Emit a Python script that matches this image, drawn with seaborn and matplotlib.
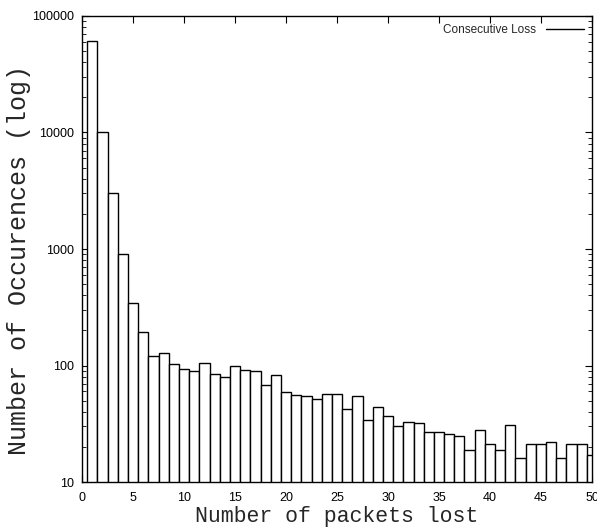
import matplotlib
matplotlib.use("Agg")
import matplotlib.pyplot as plt
import seaborn as sns
import pandas as pd
from matplotlib.lines import Line2D
from matplotlib.ticker import LogLocator, NullFormatter, FixedLocator

# number of consecutive packets lost and how often it happened
packets_lost = list(range(1, 51))
occurrences = [61000, 10000, 3000, 900, 345, 195, 120, 128, 104, 94,
               90, 105, 84, 79, 100, 91, 89, 68, 83, 59,
               56, 55, 52, 57, 57, 42, 55, 34, 44, 37,
               30, 33, 32, 27, 27, 26, 25, 19, 28, 21,
               19, 31, 16, 21, 21, 22, 16, 21, 21, 17]
x_ticks = [0, 5, 10, 15, 20, 25, 30, 35, 40, 45, 50]
y_ticks = [10, 100, 1000, 10000, 100000]

df = pd.DataFrame({"lost": packets_lost, "count": occurrences})

sns.set_style("ticks")
tick_font = ["Liberation Sans Narrow", "Liberation Sans"]

fig = plt.figure(figsize=(5.97, 5.29), dpi=100)
ax = fig.add_axes([0.1374, 0.0888, 0.8542, 0.881])

sns.barplot(data=df, x="lost", y="count", native_scale=True, width=1,
            color="white", edgecolor="black", linewidth=1, ax=ax,
            errorbar=None, saturation=1)

ax.set_yscale("log")
ax.set_ylim(10, 100000)
ax.set_xlim(0, 50)

ax.xaxis.set_major_locator(FixedLocator(x_ticks))
ax.set_xticklabels([str(t) for t in x_ticks])
ax.yaxis.set_major_locator(FixedLocator(y_ticks))
ax.set_yticklabels([str(t) for t in y_ticks])
ax.yaxis.set_minor_locator(LogLocator(base=10, subs=range(2, 10)))
ax.yaxis.set_minor_formatter(NullFormatter())

for s in ax.spines.values():
    s.set_visible(True)
    s.set_linewidth(1)
    s.set_color("black")

ax.tick_params(which="both", direction="in", top=True, right=True, colors="black")
ax.tick_params(which="major", length=5, width=0.8, labelsize=9)
ax.tick_params(axis="x", which="major", pad=7.5)
ax.tick_params(axis="y", which="major", pad=6)
ax.tick_params(which="minor", length=3, width=0.6)
for lab in ax.get_xticklabels() + ax.get_yticklabels():
    lab.set_family(tick_font)

ax.set_xlabel("Number of packets lost", family="Liberation Mono", fontsize=15.5, labelpad=1)
ax.set_ylabel("Number of Occurences (log)", family="Liberation Mono", fontsize=18)
ax.yaxis.set_label_coords(-0.1, 0.476)

handle = Line2D([], [], color="black", linewidth=1)
ax.legend([handle], ["Consecutive Loss"], loc="upper right", frameon=False,
          markerfirst=False, handlelength=3.2, borderaxespad=0.3,
          prop={"family": tick_font, "size": 8.5})

fig.savefig("out.png", dpi=100, facecolor="white")
